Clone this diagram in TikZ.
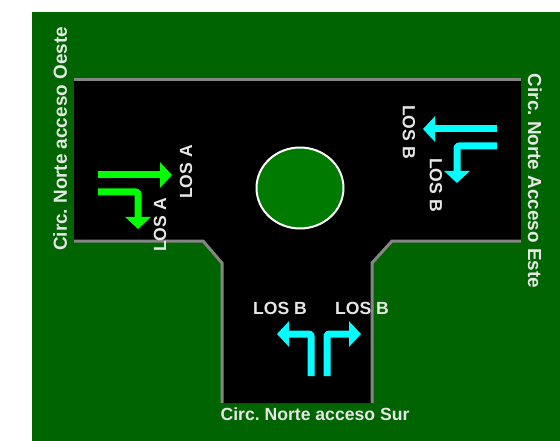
\documentclass[tikz,border=0pt]{standalone}
\usepackage{fontspec}
\setmainfont{Liberation Sans}
\usepackage{tikz}
\usetikzlibrary{shapes.geometric,arrows.meta,positioning}
\definecolor{grass}{HTML}{006400}
\definecolor{island}{HTML}{007A00}
\definecolor{kerb}{HTML}{858585}
\definecolor{labelgrey}{HTML}{E6E6E6}
\definecolor{losa}{HTML}{00FF00}
\definecolor{losb}{HTML}{00FFFF}
\tikzset{
  tag/.style={text=labelgrey,inner sep=0pt,font=\frenchspacing\bfseries\fontsize{17.6}{20}\selectfont},
  sidetag/.style={tag,font=\frenchspacing\bfseries\fontsize{18.9}{20}\selectfont},
  flow/.style={line width=7pt,line join=round,rounded corners=2pt,-{Triangle[width=25pt,length=12pt]}}
}

\begin{document}
\begin{tikzpicture}[x=1pt,y=-1pt]
\useasboundingbox (0,0) rectangle (560,441);
\fill[white] (0,0) rectangle (560,441);
\fill[grass] (32,12) rectangle (560,441);
% road
\fill[black] (74,80) -- (521,80) -- (521,241) -- (392,241) -- (372,263) -- (372,403)
  -- (222,403) -- (222,263) -- (203,241) -- (74,241) -- cycle;
\draw[kerb,line width=3pt] (74,80) -- (521,80);
\draw[kerb,line width=3pt] (521,241) -- (392,241) -- (372,263) -- (372,403);
\draw[kerb,line width=3pt] (74,241) -- (203,241) -- (222,263) -- (222,403);
\node[ellipse,draw=white,line width=2pt,fill=island,minimum width=87pt,minimum height=81pt,inner sep=0pt] (rotonda) at (300,188) {};
% green arrows
\coordinate (oesteA) at (98,175);
\coordinate (oesteAend) at (172,175);
\coordinate (oesteB) at (98,192);
\coordinate (oesteBend) at (138,229);
\draw[flow,losa] (oesteA) -- (oesteAend);
\draw[flow,losa] (oesteB) -| (oesteBend);
% cyan arrows, east
\coordinate (esteA) at (497,129);
\coordinate (esteAend) at (423,129);
\coordinate (esteB) at (497,146);
\coordinate (esteBend) at (457,183);
\draw[flow,losb] (esteA) -- (esteAend);
\draw[flow,losb] (esteB) -| (esteBend);
% cyan arrows, south
\coordinate (surA) at (311,376);
\coordinate (surAend) at (277,334);
\coordinate (surB) at (327,376);
\coordinate (surBend) at (361,334);
\draw[flow,losb] (surA) |- (surAend);
\draw[flow,losb] (surB) |- (surBend);
% labels
\node[sidetag,rotate=90] (oeste) at (60,139) {Circ. Norte acceso Oeste};
\node[sidetag,rotate=-90] (este) at (535,181) {Circ. Norte Acceso Este};
\node[tag] (sur) at (315,414) {Circ. Norte acceso Sur};
\node[tag,rotate=90] (losOesteA) at (186,172) {LOS A};
\node[tag,rotate=90] (losOesteB) at (160,225) {LOS A};
\node[tag,rotate=-90] (losEsteA) at (409,132) {LOS B};
\node[tag,rotate=-90] (losEsteB) at (436,185) {LOS B};
\node[tag] (losSurA) at (280,308) {LOS B};
\node[tag] (losSurB) at (362,308) {LOS B};
\end{tikzpicture}
\end{document}
